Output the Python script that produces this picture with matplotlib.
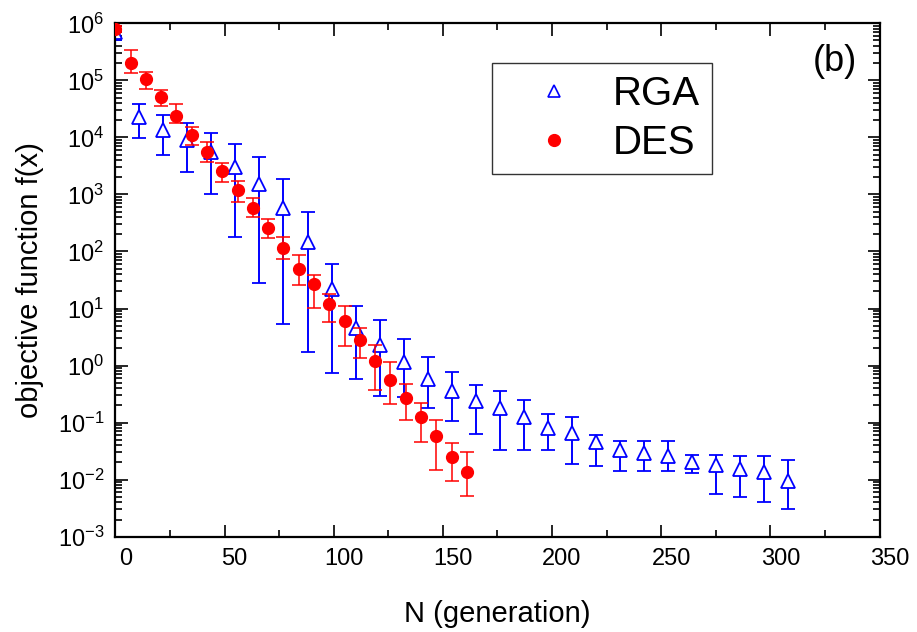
import numpy as np
import matplotlib
matplotlib.use("Agg")
import matplotlib.pyplot as plt
import matplotlib.transforms as mtransforms
from matplotlib.lines import Line2D
from matplotlib.ticker import LogLocator, MultipleLocator, NullFormatter

plt.rcParams['font.family'] = ['Liberation Sans', 'DejaVu Sans']

# DES (red circles): generation, mean value, lower and upper error limits
des_x = [0, 7, 14, 21, 28, 35, 42, 49, 56, 63, 70, 77, 84, 91, 98, 105,
         112, 119, 126, 133, 140, 147, 154, 161]
des_y = [8.0e5, 2.0e5, 1.05e5, 5.1e4, 2.37e4, 1.1e4, 5.6e3, 2.56e3, 1.19e3,
         590, 260, 116, 49, 26.4, 12.2, 6.0, 2.86, 1.22, 0.56, 0.27, 0.125,
         0.059, 0.0249, 0.0138]
des_lo = [7.0e5, 1.33e5, 7.0e4, 3.6e4, 1.76e4, 7.3e3, 3.7e3, 1.63e3, 740,
          405, 173, 73, 25.6, 10.4, 5.8, 2.2, 1.38, 0.37, 0.215, 0.113, 0.045,
          0.015, 0.0093, 0.0051]
des_hi = [9.0e5, 3.4e5, 1.42e5, 6.7e4, 3.8e4, 1.53e4, 8.4e3, 3.6e3, 1.73e3,
          870, 369, 176, 87, 38, 18.3, 11, 4.6, 2.27, 1.16, 0.48, 0.22,
          0.113, 0.044, 0.030]

# RGA (blue open triangles)
rga_x = [0, 11, 22, 33, 44, 55, 66, 77, 88, 99, 110, 121, 132, 143, 154,
         165, 176, 187, 198, 209, 220, 231, 242, 253, 264, 275, 286, 297, 308]
rga_y = [7e5, 2.3e4, 1.34e4, 9.0e3, 5.6e3, 3.05e3, 1.5e3, 580, 147, 22.4,
         4.6, 2.33, 1.16, 0.575, 0.358, 0.239, 0.178, 0.127, 0.080, 0.066,
         0.046, 0.0327, 0.0293, 0.026, 0.020, 0.0178, 0.0153, 0.0136, 0.0093]
rga_lo = [5e5, 9.8e3, 5.0e3, 2.5e3, 1.0e3, 180, 28, 5.3, 1.73, 0.74, 0.57,
          0.29, 0.28, 0.178, 0.108, 0.063, 0.033, 0.033, 0.033, 0.0188,
          0.0171, 0.0144, 0.0144, 0.0142, 0.0133, 0.0055, 0.005, 0.004, 0.003]
rga_hi = [8e5, 3.8e4, 2.5e4, 1.8e4, 1.2e4, 7.7e3, 4.6e3, 1.9e3, 495, 61.5,
          11.1, 6.4, 2.9, 1.42, 0.785, 0.457, 0.364, 0.249, 0.144, 0.125,
          0.060, 0.0476, 0.0476, 0.0476, 0.0275, 0.0275, 0.0256, 0.0256, 0.0218]

fig = plt.figure(figsize=(9.17, 6.32), dpi=100)
ax = fig.add_axes([0.1258, 0.1508, 0.8334, 0.8123])

rga_y = np.array(rga_y)
rga_err = [rga_y - np.array(rga_lo), np.array(rga_hi) - rga_y]
ax.errorbar(rga_x, rga_y, yerr=rga_err, fmt='^', color='#0000ff', mfc='white',
            mec='#0000ff', ms=10, mew=1.3, elinewidth=1.4, capsize=5,
            capthick=1.4, zorder=2)

des_y = np.array(des_y)
des_err = [des_y - np.array(des_lo), np.array(des_hi) - des_y]
ax.errorbar(des_x, des_y, yerr=des_err, fmt='o', color='#ff0000', ms=8.5,
            elinewidth=1.1, capsize=5, capthick=1.1, zorder=3)

ax.set_yscale('log')
ax.set_xlim(0, 350)
ax.set_ylim(1e-3, 1e6)
ax.xaxis.set_major_locator(MultipleLocator(50))
ax.xaxis.set_minor_locator(MultipleLocator(25))
ax.yaxis.set_major_locator(LogLocator(base=10, numticks=20))
ax.yaxis.set_minor_locator(LogLocator(base=10, subs=np.arange(2, 10), numticks=20))
ax.yaxis.set_minor_formatter(NullFormatter())

ax.tick_params(which='both', direction='in', top=True, right=True,
               labelsize=17, width=1.2)
ax.tick_params(which='major', length=9, pad=8)
ax.tick_params(which='minor', length=5)
for s in ax.spines.values():
    s.set_linewidth(1.6)

# x tick labels sit a little right of their ticks in the original
shift = mtransforms.ScaledTranslation(10 / 100, 0, fig.dpi_scale_trans)
for lab in ax.get_xticklabels():
    lab.set_transform(lab.get_transform() + shift)

ax.set_xlabel('N (generation)', fontsize=21, labelpad=22)
ax.set_ylabel('objective function f(x)', fontsize=21, labelpad=10)

ax.text(0.942, 0.925, '(b)', transform=ax.transAxes, fontsize=26,
        ha='center', va='center')

handles = [Line2D([], [], ls='none', marker='^', ms=8.5, mfc='white',
                  mec='#0000ff', mew=1.2),
           Line2D([], [], ls='none', marker='o', ms=8.5, color='#ff0000')]
leg = ax.legend(handles, ['RGA', 'DES'], loc='upper left',
                bbox_to_anchor=(491.7 / 917, 1 - 63.3 / 632),
                bbox_transform=fig.transFigure, borderaxespad=0,
                fontsize=29, frameon=True, fancybox=False, borderpad=0.3,
                handletextpad=0.22, handlelength=2.48, labelspacing=0.26)
leg.get_frame().set_edgecolor('black')
leg.get_frame().set_linewidth(1.0)

fig.savefig('out.png', dpi=100)
